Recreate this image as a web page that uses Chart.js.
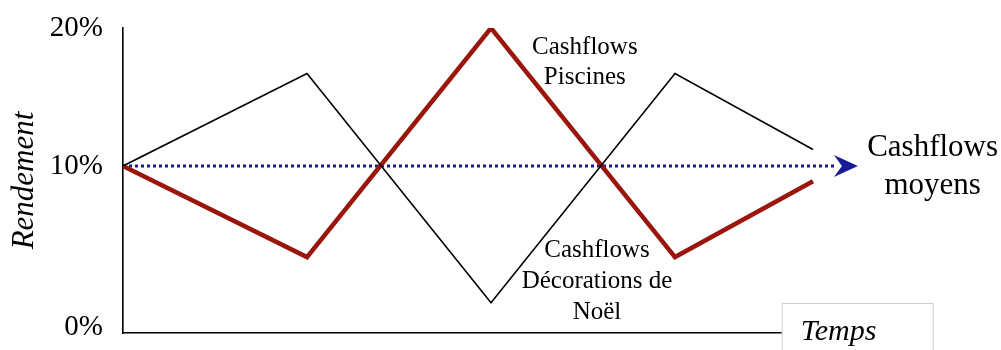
<!DOCTYPE html>
<html>
<head>
<meta charset="utf-8">
<script src="https://cdn.jsdelivr.net/npm/chart.js@4"></script>
<style>
  body { margin: 0; background: #fff; }
  #wrap { width: 1001px; height: 350px; }
</style>
</head>
<body>
<div id="wrap"><canvas id="chart" width="1001" height="350"></canvas></div>
<script>
// Time steps (schematic) and returns in %
const periods = [0, 1, 2, 3, 3.75];
const decorations = [10, 16.7, 0.1, 16.7, 11.2];
const piscines = [10, 3.4, 20, 3.4, 8.9];
const moyensPeriods = [0, 3.88];
const moyens = [10, 10];
const yTickLabels = ['0%', '10%', '20%'];

const serif = '"Liberation Serif", "Times New Roman", serif';

function toPoints(xs, ys) {
  return xs.map((x, i) => ({ x: x, y: ys[i] }));
}

// Arrow head at the end of the average line, text notes and the "Temps" box
const notesPlugin = {
  id: 'notes',
  afterDatasetsDraw(chart) {
    const ctx = chart.ctx;
    const xs = chart.scales.x, ys = chart.scales.y;

    // arrow head
    const meta = chart.getDatasetMeta(2);
    const last = meta.data[meta.data.length - 1];
    ctx.save();
    ctx.fillStyle = '#1a1a96';
    ctx.beginPath();
    ctx.moveTo(last.x - 3, last.y - 11);
    ctx.lineTo(last.x + 21, last.y);
    ctx.lineTo(last.x - 3, last.y + 11);
    ctx.lineTo(last.x + 5, last.y);
    ctx.closePath();
    ctx.fill();
    ctx.restore();

    ctx.save();
    ctx.fillStyle = '#000';
    ctx.textAlign = 'center';
    ctx.textBaseline = 'middle';

    ctx.font = '25px ' + serif;
    const px = xs.getPixelForValue(2.51);
    ctx.fillText('Cashflows', px, ys.getPixelForValue(18.6));
    ctx.fillText('Piscines', px, ys.getPixelForValue(16.45));

    const dx = xs.getPixelForValue(2.576);
    ctx.fillText('Cashflows', dx, ys.getPixelForValue(3.9));
    ctx.fillText('Décorations de', dx, ys.getPixelForValue(1.6));
    ctx.fillText('Noël', dx, ys.getPixelForValue(-0.6));

    ctx.font = '31px ' + serif;
    const mx = xs.getPixelForValue(4.4);
    ctx.fillText('Cashflows', mx, ys.getPixelForValue(11.3));
    ctx.fillText('moyens', mx, ys.getPixelForValue(8.55));

    // "Temps" box covering the end of the time axis
    const bx = xs.getPixelForValue(3.58);
    const by = ys.bottom - 30;
    ctx.fillStyle = '#fff';
    ctx.fillRect(bx, by, 151, 60);
    ctx.strokeStyle = '#cfcfcf';
    ctx.lineWidth = 1;
    ctx.strokeRect(bx + 0.5, by + 0.5, 151, 60);
    ctx.fillStyle = '#000';
    ctx.textAlign = 'left';
    ctx.font = 'italic 30px ' + serif;
    ctx.fillText('Temps', bx + 19, ys.bottom - 1);
    ctx.restore();
  }
};

new Chart(document.getElementById('chart'), {
  type: 'line',
  data: {
    datasets: [
      {
        label: 'Cashflows Décorations de Noël',
        data: toPoints(periods, decorations),
        borderColor: '#000',
        borderWidth: 1.6,
        pointRadius: 0,
        tension: 0
      },
      {
        label: 'Cashflows Piscines',
        data: toPoints(periods, piscines),
        borderColor: '#9a160c',
        borderWidth: 4.5,
        pointRadius: 0,
        tension: 0
      },
      {
        label: 'Cashflows moyens',
        data: toPoints(moyensPeriods, moyens),
        borderColor: '#1a1a96',
        borderWidth: 3,
        borderDash: [3, 3],
        pointRadius: 0,
        tension: 0
      }
    ]
  },
  options: {
    responsive: false,
    animation: false,
    layout: {
      padding: { left: 0, top: 28, right: 142, bottom: 17 }
    },
    plugins: {
      legend: { display: false },
      tooltip: { enabled: false }
    },
    scales: {
      x: {
        type: 'linear',
        min: 0,
        max: 4,
        grid: { display: false, drawTicks: false },
        border: { color: '#000', width: 1.6 },
        ticks: { display: false },
        afterFit: function(scale) { scale.height = 0; }
      },
      y: {
        min: -2.1,
        max: 20,
        // tick marks are hidden, their length only spaces the labels from the axis
        grid: { display: false, drawTicks: true, tickLength: 20 },
        border: { color: '#000', width: 1.6 },
        afterBuildTicks: function(scale) {
          scale.ticks = [{ value: -1.7 }, { value: 10 }, { value: 20 }];
        },
        ticks: {
          autoSkip: false,
          padding: 0,
          color: '#000',
          font: { family: serif, size: 29, lineHeight: 0.3 },
          callback: function(value, index) { return yTickLabels[index]; }
        },
        title: {
          display: true,
          text: 'Rendement',
          color: '#000',
          font: { family: serif, size: 31, style: 'italic' },
          padding: { top: 6, bottom: 0 }
        },
        afterFit: function(scale) { scale.width = 123; }
      }
    }
  },
  plugins: [notesPlugin]
});
</script>
</body>
</html>
